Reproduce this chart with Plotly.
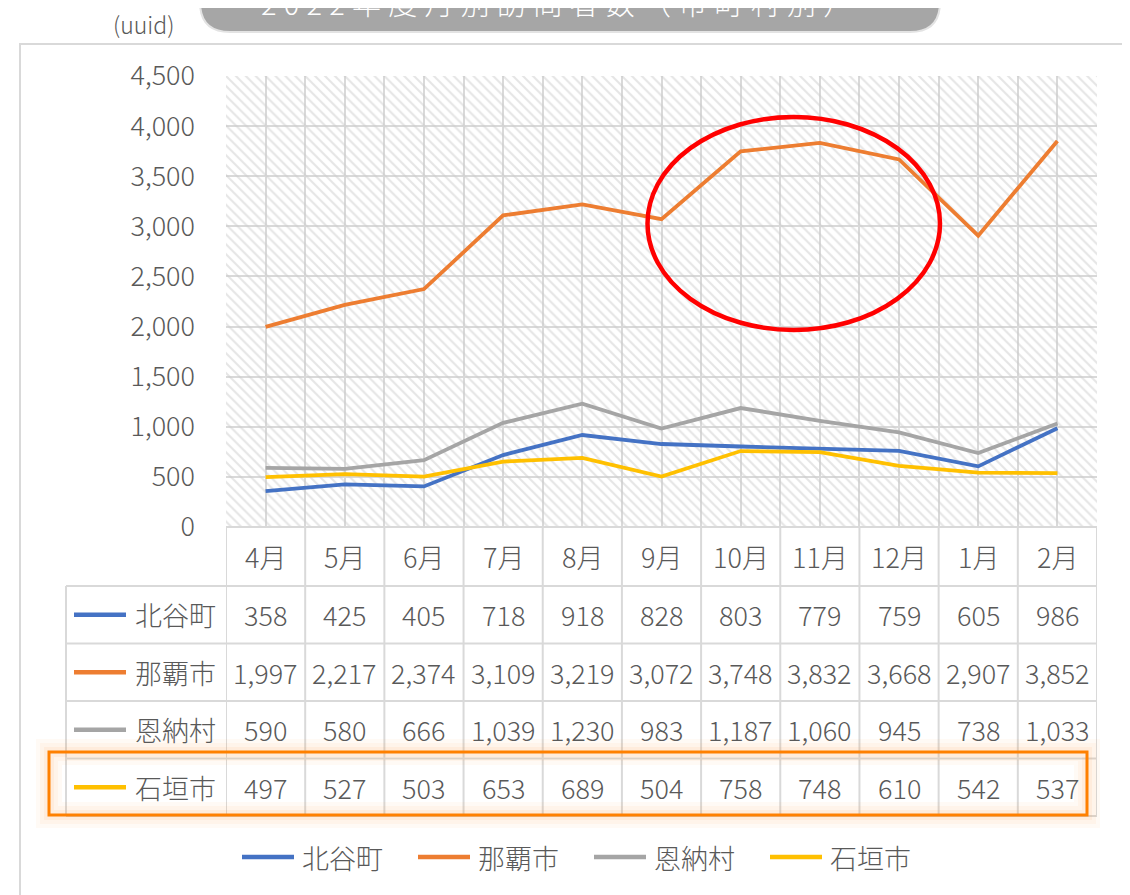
import plotly.graph_objects as go

# ---------------- data ----------------
months = ['4月', '5月', '6月', '7月', '8月', '9月', '10月', '11月', '12月', '1月', '2月']
series_names = ['北谷町', '那覇市', '恩納村', '石垣市']
chatan = [358, 425, 405, 718, 918, 828, 803, 779, 759, 605, 986]
naha = [1997, 2217, 2374, 3109, 3219, 3072, 3748, 3832, 3668, 2907, 3852]
onna = [590, 580, 666, 1039, 1230, 983, 1187, 1060, 945, 738, 1033]
ishigaki = [497, 527, 503, 653, 689, 504, 758, 748, 610, 542, 537]
series_values = [chatan, naha, onna, ishigaki]
series_colors = ['#4472C4', '#ED7D31', '#A5A5A5', '#FFC000']
y_max = 4500
y_step = 500
title_text = '2022年度月別訪問者数（市町村別）'
unit_text = '(uuid)'

# ---------------- geometry helpers (screen pixel coordinates) ----------------
OFF = 8                      # page body margin of the html page
SCREEN_W, SCREEN_H = 1130, 895
W, H = SCREEN_W - OFF, SCREEN_H - OFF
L, R, T, B = 226, 1097, 76, 527
FONT = 'Noto Sans CJK JP, Noto Sans, sans-serif'
TXT = '#595959'
GRID = '#d9d9d9'
FW = 300


def px(xp):
    return (xp - L) / (R - L)


def py(yp):
    return (B - yp) / (B - T)


xs = list(range(len(months)))

fig = go.Figure()

# hatched plot background
fig.add_trace(go.Bar(
    x=xs, y=[y_max] * len(xs), width=1,
    marker=dict(color='rgba(0,0,0,0)', line=dict(width=0),
                pattern=dict(shape='\\', fgcolor='#cccccc', size=7, solidity=0.3)),
    hoverinfo='skip', showlegend=False))

for name, vals, col in zip(series_names, series_values, series_colors):
    fig.add_trace(go.Scatter(x=xs, y=vals, mode='lines', name=name,
                             line=dict(color=col, width=3.8), showlegend=False))

shapes = []
annotations = []

# data table geometry
row_edges = [B, 586, 643.5, 701, 758.5, 816]
table_left = 66
for i, ye in enumerate(row_edges):
    x0 = L if i == 0 else table_left
    shapes.append(dict(type='line', xref='paper', yref='paper', x0=px(x0), x1=px(R),
                       y0=py(ye), y1=py(ye), line=dict(color=GRID, width=2)))
for k in range(len(months) + 1):
    shapes.append(dict(type='line', xref='x', yref='paper', x0=k - 0.5, x1=k - 0.5,
                       y0=py(B), y1=py(row_edges[-1]), line=dict(color=GRID, width=2)))
shapes.append(dict(type='line', xref='paper', yref='paper', x0=px(table_left), x1=px(table_left),
                   y0=py(row_edges[1]), y1=py(row_edges[-1]), line=dict(color=GRID, width=2)))

# header (month labels)
for i, m in enumerate(months):
    annotations.append(dict(x=i, xref='x', y=py((row_edges[0] + row_edges[1]) / 2), yref='paper',
                            text=m, showarrow=False, xanchor='center', yanchor='middle',
                            font=dict(family=FONT, size=27, color=TXT, weight=FW)))
# rows
for r, (name, vals, col) in enumerate(zip(series_names, series_values, series_colors)):
    yc = (row_edges[r + 1] + row_edges[r + 2]) / 2
    for i, v in enumerate(vals):
        annotations.append(dict(x=i, xref='x', y=py(yc), yref='paper', text=f'{v:,}',
                                showarrow=False, xanchor='center', yanchor='middle',
                                font=dict(family=FONT, size=27, color=TXT, weight=FW)))
    annotations.append(dict(x=px(218), xref='paper', y=py(yc), yref='paper', text=name,
                            showarrow=False, xanchor='right', yanchor='middle',
                            font=dict(family=FONT, size=27, color=TXT, weight=FW)))
    shapes.append(dict(type='line', xref='paper', yref='paper', x0=px(74), x1=px(126),
                       y0=py(yc), y1=py(yc), line=dict(color=col, width=4.5)))

# legend (manual)
leg_y = 857
start = 242
step = 176
for j, (name, col) in enumerate(zip(series_names, series_colors)):
    x0 = start + j * step
    shapes.append(dict(type='line', xref='paper', yref='paper', x0=px(x0), x1=px(x0 + 52),
                       y0=py(leg_y), y1=py(leg_y), line=dict(color=col, width=4.5)))
    annotations.append(dict(x=px(x0 + 58), xref='paper', y=py(leg_y), yref='paper', text=name,
                            showarrow=False, xanchor='left', yanchor='middle',
                            font=dict(family=FONT, size=27, color=TXT, weight=FW)))

# outer chart border
shapes.append(dict(type='rect', xref='paper', yref='paper', x0=px(20), x1=px(1126),
                   y0=py(44), y1=py(905), line=dict(color=GRID, width=2), layer='below'))

# title box (rounded bottom corners)
bx0, bx1, by0, by1, rad = 200, 940, -30, 32, 30


def P(xp, yp):
    return f'{px(xp)},{py(yp)}'


path = (f'M {P(bx0, by0)} L {P(bx0, by1 - rad)} Q {P(bx0, by1)} {P(bx0 + rad, by1)} '
        f'L {P(bx1 - rad, by1)} Q {P(bx1, by1)} {P(bx1, by1 - rad)} L {P(bx1, by0)} Z')
shapes.append(dict(type='path', xref='paper', yref='paper', path=path,
                   fillcolor='#A6A6A6', line=dict(color='#E3E3E3', width=2)))
annotations.append(dict(x=px(556), xref='paper', y=py(2), yref='paper',
                        text='\u2005'.join(list(title_text)), showarrow=False,
                        xanchor='center', yanchor='middle',
                        font=dict(family=FONT, size=29, color='white', weight=FW)))
annotations.append(dict(x=px(143), xref='paper', y=py(24), yref='paper', text=unit_text,
                        showarrow=False, xanchor='center', yanchor='middle',
                        font=dict(family=FONT, size=23, color=TXT, weight=FW)))

# red ellipse highlight
shapes.append(dict(type='circle', xref='paper', yref='paper', x0=px(647.5), x1=px(940),
                   y0=py(117), y1=py(330), line=dict(color='#FF0000', width=4.5)))

# orange highlight box with glow
for w, a in [(26, 0.05), (18, 0.06), (10, 0.08)]:
    shapes.append(dict(type='rect', xref='paper', yref='paper', x0=px(49), x1=px(1087),
                       y0=py(752), y1=py(815), line=dict(color=f'rgba(255,150,60,{a})', width=w)))
shapes.append(dict(type='rect', xref='paper', yref='paper', x0=px(49), x1=px(1087),
                   y0=py(752), y1=py(815), line=dict(color='#FF8000', width=3)))

fig.update_layout(
    width=W, height=H,
    margin=dict(l=L - OFF, r=SCREEN_W - R, t=T - OFF, b=SCREEN_H - B, pad=0),
    paper_bgcolor='white', plot_bgcolor='white',
    showlegend=False,
    shapes=shapes, annotations=annotations,
    bargap=0,
    xaxis=dict(range=[-0.5, len(months) - 0.5], tick0=-0.5, dtick=0.5, showticklabels=False,
               showgrid=True, gridcolor=GRID, gridwidth=1.5, zeroline=False, showline=False,
               ticks='', fixedrange=True),
    yaxis=dict(range=[0, y_max], dtick=y_step, tickformat=',', showgrid=True, gridcolor=GRID,
               gridwidth=1.5, zeroline=False, showline=False, ticks='', ticklabelstandoff=30,
               tickfont=dict(family=FONT, size=27, color=TXT, weight=FW), fixedrange=True),
)

fig.write_html('out.html')
